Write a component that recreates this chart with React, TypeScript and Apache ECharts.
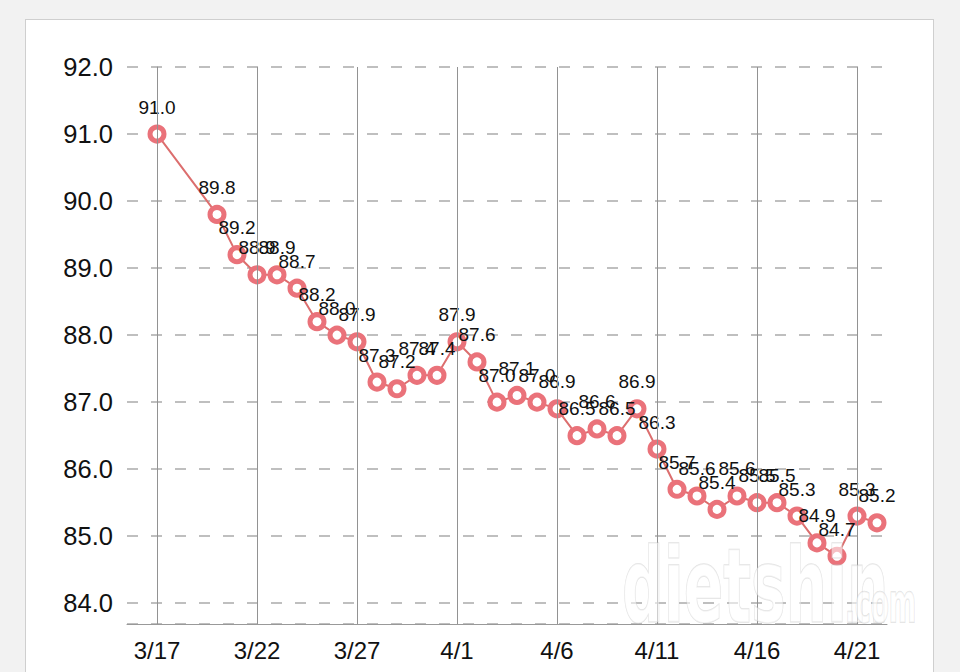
import React, { useEffect, useRef } from "react";
import * as echarts from "echarts";

const dates: string[] = [
  "3/17", "3/18", "3/19", "3/20", "3/21", "3/22", "3/23", "3/24", "3/25", "3/26",
  "3/27", "3/28", "3/29", "3/30", "3/31", "4/1", "4/2", "4/3", "4/4", "4/5",
  "4/6", "4/7", "4/8", "4/9", "4/10", "4/11", "4/12", "4/13", "4/14", "4/15",
  "4/16", "4/17", "4/18", "4/19", "4/20", "4/21", "4/22",
];

const weights: (number | null)[] = [
  91.0, null, null, 89.8, 89.2, 88.9, 88.9, 88.7, 88.2, 88.0,
  87.9, 87.3, 87.2, 87.4, 87.4, 87.9, 87.6, 87.0, 87.1, 87.0,
  86.9, 86.5, 86.6, 86.5, 86.9, 86.3, 85.7, 85.6, 85.4, 85.6,
  85.5, 85.5, 85.3, 84.9, 84.7, 85.3, 85.2,
];

const xTickIndices: number[] = [0, 5, 10, 15, 20, 25, 30, 35];
const yTickValues: number[] = [84, 85, 86, 87, 88, 89, 90, 91, 92];

export default function App() {
  const ref = useRef<HTMLDivElement>(null);

  useEffect(() => {
    if (!ref.current) return;
    const chart = echarts.init(ref.current, null, { renderer: "svg" });

    const seriesData = weights
      .map((w, i) => (w === null ? null : [i, w]))
      .filter((d) => d !== null) as number[][];

    const fontFamily = "'Liberation Sans', Arial, sans-serif";

    chart.setOption({
      animation: false,
      grid: { left: 127, right: 73, top: 67, bottom: 48, containLabel: false },
      xAxis: {
        type: "value",
        min: -1.5,
        max: 36.5,
        axisLine: { show: true, lineStyle: { color: "#999", width: 1 } },
        axisTick: { show: false },
        splitLine: { show: false },
        axisLabel: {
          customValues: xTickIndices,
          formatter: (v: number) => dates[Math.round(v)] ?? "",
          color: "#111",
          fontSize: 24,
          fontFamily,
          margin: 14,
        },
      },
      yAxis: {
        type: "value",
        min: 83.69,
        max: 92,
        splitNumber: 8,
        axisLine: { show: true, lineStyle: { color: "#999", width: 1 } },
        axisTick: { show: false },
        splitLine: {
          show: true,
          lineStyle: { color: "#aaa", width: 1.5, type: [11, 13] },
        },
        axisLabel: {
          customValues: yTickValues,
          formatter: (v: number) => v.toFixed(1),
          color: "#111",
          fontSize: 25.5,
          fontFamily,
          margin: 14,
        },
      },
      series: [
        {
          type: "line",
          data: [],
          z: 1,
          silent: true,
          markLine: {
            silent: true,
            symbol: ["none", "none"],
            label: { show: false },
            lineStyle: { color: "#929292", width: 1, type: "solid" },
            data: xTickIndices.map((i) => ({ xAxis: i })),
          },
        },
        {
          type: "line",
          z: 3,
          data: seriesData,
          symbol: "circle",
          symbolSize: 14,
          lineStyle: { color: "#dc6e6e", width: 2 },
          itemStyle: { color: "#fff", borderColor: "#ea727a", borderWidth: 5 },
          label: {
            show: true,
            position: "top",
            distance: 8,
            formatter: (p: any) => Number(p.value[1]).toFixed(1),
            color: "#111",
            fontSize: 19,
            fontFamily,
          },
        },
      ],
      graphic: [
        {
          type: "text",
          x: 622,
          y: 586,
          scaleX: 0.56,
          z: 100,
          silent: true,
          style: {
            text: "dietshin",
            x: 0,
            y: 0,
            font: "bold 104px 'DejaVu Sans'",
            fill: "rgba(255,255,255,0.55)",
            stroke: "rgba(190,190,190,0.45)",
            lineWidth: 1.5,
            verticalAlign: "middle",
          },
        },
        {
          type: "text",
          x: 845,
          y: 603,
          scaleX: 0.48,
          z: 100,
          silent: true,
          style: {
            text: ".com",
            x: 0,
            y: 0,
            font: "bold 55px 'DejaVu Sans'",
            fill: "rgba(255,255,255,0.55)",
            stroke: "rgba(190,190,190,0.45)",
            lineWidth: 1.5,
            verticalAlign: "middle",
          },
        },
      ],
    });

    return () => chart.dispose();
  }, []);

  return (
    <div
      style={{
        position: "fixed",
        left: 0,
        top: 0,
        width: 960,
        height: 672,
        background: "#f2f2f2",
        overflow: "hidden",
      }}
    >
      <div
        style={{
          position: "absolute",
          left: 25,
          top: 19,
          width: 907,
          height: 700,
          background: "#fff",
          border: "1px solid #cfcfcf",
        }}
      />
      <div
        ref={ref}
        style={{ position: "absolute", left: 0, top: 0, width: 960, height: 672 }}
      />
    </div>
  );
}
